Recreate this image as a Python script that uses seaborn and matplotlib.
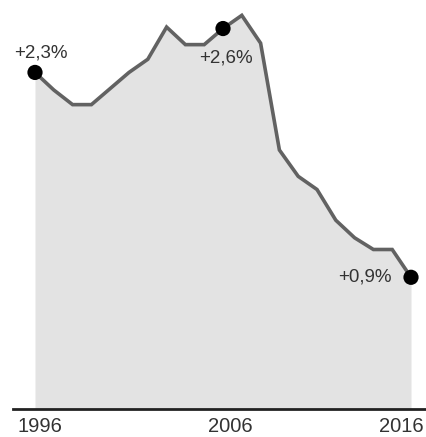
import matplotlib
matplotlib.use("Agg")
import matplotlib.pyplot as plt
import matplotlib.transforms as mtransforms
import seaborn as sns
import pandas as pd

years = [1996, 1997, 1998, 1999, 2000, 2001, 2002, 2003, 2004, 2005, 2006,
         2007, 2008, 2009, 2010, 2011, 2012, 2013, 2014, 2015, 2016]
values = [2.3, 2.18, 2.08, 2.08, 2.19, 2.30, 2.39, 2.61, 2.49, 2.49, 2.6,
          2.69, 2.50, 1.77, 1.59, 1.50, 1.29, 1.17, 1.09, 1.09, 0.9]
highlight_years = [1996, 2006, 2016]
highlight_labels = ["+2,3%", "+2,6%", "+0,9%"]
tick_years = [1996, 2006, 2016]

sns.set_style("white")
plt.rcParams['font.family'] = ['Liberation Sans', 'DejaVu Sans']

df = pd.DataFrame({"year": years, "value": values})
hl = df[df["year"].isin(highlight_years)].reset_index(drop=True)

fig = plt.figure(figsize=(4.27, 4.37), dpi=100)
ax = fig.add_axes([13 / 427, 28 / 437, 1 - 13 / 427, 1 - 28 / 437])

ax.fill_between(df["year"], df["value"], 0, color="#e3e3e3", linewidth=0, zorder=1)
sns.lineplot(data=df, x="year", y="value", ax=ax, color="#626262", linewidth=2.6,
             zorder=2, solid_joinstyle="miter")
sns.scatterplot(data=hl, x="year", y="value", ax=ax, color="black", s=120,
                edgecolor="none", zorder=3)

offsets = [((6, 19), "center"), ((3, -29), "center"), ((-19, 0), "right")]
for (yr, val), lab, (off, ha) in zip(zip(hl["year"], hl["value"]), highlight_labels, offsets):
    ax.annotate(lab, (yr, val), xytext=off, textcoords="offset pixels",
                ha=ha, va="center", fontsize=13.5, color="#333333", zorder=4)

ax.set_xlim(1996 - 22 / 18.8, 2016 + 16 / 18.8)
ax.set_ylim(0, 2.795)
ax.set_xticks(tick_years)
ax.set_xticklabels([str(t) for t in tick_years], fontsize=14.5, color="#333333")
ax.tick_params(axis="x", length=0, pad=6)
label_shifts = [5, 7, -10]
for lbl, dx in zip(ax.get_xticklabels(), label_shifts):
    lbl.set_transform(lbl.get_transform() +
                      mtransforms.ScaledTranslation(dx / 100, 0, fig.dpi_scale_trans))
ax.set_yticks([])
ax.set_xlabel("")
ax.set_ylabel("")
for s in ["top", "left", "right"]:
    ax.spines[s].set_visible(False)
ax.spines["bottom"].set_color("#222222")
ax.spines["bottom"].set_linewidth(2)

fig.savefig("out.png", dpi=100)
